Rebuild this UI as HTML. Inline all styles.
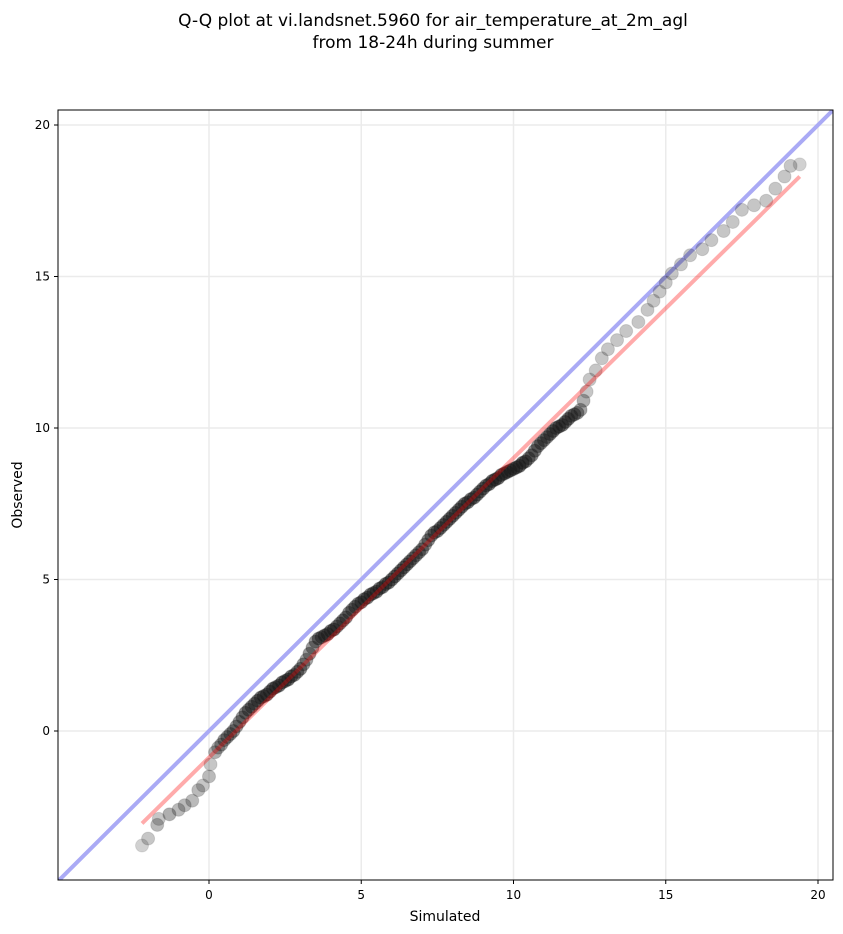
<!DOCTYPE html>
<html><head><meta charset="utf-8"><style>
body{margin:0;background:#fff;}
svg{display:block;font-family:"DejaVu Sans","Liberation Sans",sans-serif;}
</style></head><body>
<svg id="chart" width="843" height="934">
<text x="433" y="26" text-anchor="middle" font-size="17">Q-Q plot at vi.landsnet.5960 for air_temperature_at_2m_agl</text>
<text x="433" y="48" text-anchor="middle" font-size="17">from 18-24h during summer</text>
<text x="445" y="921" text-anchor="middle" font-size="14">Simulated</text>
<text transform="translate(22,495) rotate(-90)" text-anchor="middle" font-size="14">Observed</text>
<g id="grid"></g><g id="ticks"></g>
<clipPath id="clip"><rect x="58" y="110" width="775" height="770"/></clipPath>
<g id="marks" clip-path="url(#clip)"></g>
<rect x="58" y="110" width="775" height="770" fill="none" stroke="#000" stroke-width="1"/>
</svg>
<script>
const xTicks=[0,5,10,15,20];
const yTicks=[0,5,10,15,20];
const fitLine=[[-2.2,-3.05],[19.4,18.3]];
const simulated=[-2.2,-2.0,-1.7,-1.65,-1.3,-1.0,-0.8,-0.55,-0.35,-0.2,0.0,0.05,0.2,0.3,0.4,
0.5,0.6,0.7,0.8,0.9,1.0,
1.1,1.2,1.3,1.4,1.5,1.6,1.7,1.8,1.9,2.0,
2.1,2.2,2.3,2.4,2.5,2.6,2.7,2.8,2.9,3.0,
3.1,3.2,3.3,3.4,3.5,3.6,3.7,3.8,3.9,4.0,
4.1,4.2,4.3,4.4,4.5,4.6,4.7,4.8,4.9,5.0,
5.1,5.2,5.3,5.4,5.5,5.6,5.7,5.8,5.9,6.0,
6.1,6.2,6.3,6.4,6.5,6.6,6.7,6.8,6.9,7.0,
7.1,7.2,7.3,7.4,7.5,7.6,7.7,7.8,7.9,8.0,
8.1,8.2,8.3,8.4,8.5,8.6,8.7,8.8,8.9,9.0,
9.1,9.2,9.3,9.4,9.5,9.6,9.7,9.8,9.9,10.0,
10.1,10.2,10.3,10.4,10.5,10.6,10.7,10.8,10.9,11.0,
11.1,11.2,11.3,11.4,11.5,11.6,11.7,11.8,11.9,12.0,
12.1,12.2,12.3,12.4,12.5,
12.7,12.9,13.1,13.4,13.7,14.1,14.4,14.6,14.8,15.0,15.2,15.5,15.8,16.2,16.5,16.9,17.2,17.5,17.9,18.3,18.6,18.9,19.1,19.4];
const observed=[-3.78,-3.55,-3.1,-2.9,-2.75,-2.6,-2.45,-2.3,-1.95,-1.8,-1.5,-1.1,-0.7,-0.55,-0.45,
-0.3,-0.2,-0.1,0.0,0.15,0.3,
0.45,0.6,0.7,0.8,0.9,1.0,1.1,1.15,1.2,1.3,
1.4,1.45,1.5,1.6,1.65,1.7,1.8,1.85,1.95,2.05,
2.2,2.35,2.55,2.75,2.95,3.05,3.1,3.15,3.2,3.3,
3.35,3.45,3.55,3.65,3.75,3.9,4.0,4.1,4.2,4.25,
4.35,4.4,4.5,4.55,4.6,4.7,4.75,4.85,4.9,5.0,
5.1,5.2,5.3,5.4,5.5,5.6,5.7,5.8,5.9,6.0,
6.15,6.3,6.45,6.55,6.6,6.7,6.8,6.9,7.0,7.1,
7.2,7.3,7.4,7.5,7.55,7.65,7.7,7.8,7.9,8.0,
8.1,8.15,8.25,8.3,8.35,8.45,8.5,8.55,8.6,8.65,
8.7,8.75,8.85,8.9,9.0,9.1,9.25,9.4,9.5,9.6,
9.7,9.8,9.9,10.0,10.05,10.1,10.2,10.3,10.4,10.45,
10.5,10.6,10.9,11.2,11.6,
11.9,12.3,12.6,12.9,13.2,13.5,13.9,14.2,14.5,14.8,15.1,15.4,15.7,15.9,16.2,16.5,16.8,17.2,17.35,17.5,17.9,18.3,18.65,18.7];
const X=v=>209+(v)*30.45, Y=v=>731-(v)*30.3;
const NS="http://www.w3.org/2000/svg";
const grid=document.getElementById('grid'),ticks=document.getElementById('ticks'),marks=document.getElementById('marks');
function mk(tag,a,parent){const e=document.createElementNS(NS,tag);for(const k in a)e.setAttribute(k,a[k]);parent.appendChild(e);return e;}
xTicks.forEach(t=>{
 const g=mk('line',{x1:X(t),x2:X(t),y1:110,y2:880,stroke:'#ebebeb','stroke-width':1.5},grid);
 
 
 const l=mk('line',{x1:X(t),x2:X(t),y1:880,y2:884,stroke:'#000'},ticks);
 
 
 const tx=mk('text',{x:X(t),y:899,'text-anchor':'middle','font-size':12},ticks);tx.textContent=t;
 
 
});
yTicks.forEach(t=>{
 const g=mk('line',{x1:58,x2:833,y1:Y(t),y2:Y(t),stroke:'#ebebeb','stroke-width':1.5},grid);
 
 
 const l=mk('line',{x1:54,x2:58,y1:Y(t),y2:Y(t),stroke:'#000'},ticks);
 
 
 const tx=mk('text',{x:50,y:Y(t)+4,'text-anchor':'end','font-size':12},ticks);tx.textContent=t;
 
 
});
const idl=mk('line',{x1:X(-6),y1:Y(-6),x2:X(22),y2:Y(22),stroke:'#aaaaf5','stroke-width':4},marks);


simulated.forEach((s,i)=>{
 const o=observed[i];
 let n=0;simulated.forEach((s2,j)=>{if(Math.hypot(s2-s,observed[j]-o)<0.6)n++;});
 const a=Math.min(0.6,0.05*n+0.1);
 const c=mk('circle',{cx:X(s),cy:Y(o),r:6.5,fill:'#1a1a1a','fill-opacity':a,stroke:'#1a1a1a','stroke-opacity':a*0.5},marks);
 
 
});
const fl=mk('line',{x1:X(fitLine[0][0]),y1:Y(fitLine[0][1]),x2:X(fitLine[1][0]),y2:Y(fitLine[1][1]),stroke:'#ff0000','stroke-opacity':0.33,'stroke-width':4},marks);


</script>
</body></html>
